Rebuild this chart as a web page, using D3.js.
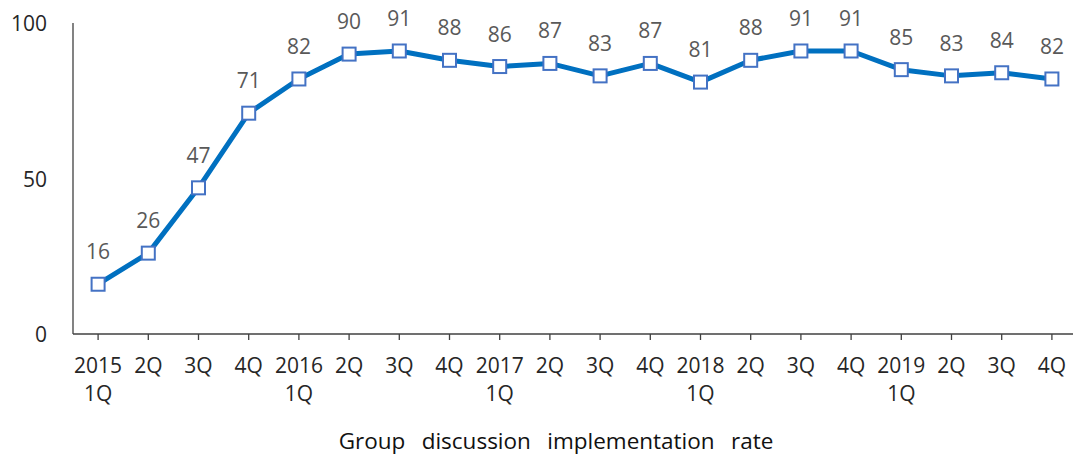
<!DOCTYPE html>
<html>
<head>
<meta charset="utf-8">
<script src="https://cdn.jsdelivr.net/npm/d3@7"></script>
<style>
  html, body { margin: 0; padding: 0; background: #fff; }
  svg { display: block; }
  text { font-family: "Open Sans", "Noto Sans", sans-serif; }
</style>
</head>
<body>
<svg id="chart" width="1073" height="456"></svg>
<script>
// Quarterly categories (first line / second line of each tick label)
const quarters = ["2015 1Q","2Q","3Q","4Q","2016 1Q","2Q","3Q","4Q","2017 1Q","2Q","3Q","4Q","2018 1Q","2Q","3Q","4Q","2019 1Q","2Q","3Q","4Q"];
const rates = [16,26,47,71,82,90,91,88,86,87,83,87,81,88,91,91,85,83,84,82];
const yTicks = [0, 50, 100];
const chartTitle = "Group discussion implementation rate";

const svg = d3.select("#chart");
const plotLeft = 73, plotRight = 1077, plotTop = 23, plotBottom = 334;

const x = d3.scaleBand().domain(d3.range(quarters.length)).range([plotLeft, plotRight]);
const y = d3.scaleLinear().domain([0, 100]).range([plotBottom, plotTop]);
const cx = i => x(i) + x.bandwidth() / 2;

// Y axis: line only, labels on the left
svg.append("line")
  .attr("x1", plotLeft).attr("x2", plotLeft).attr("y1", plotTop).attr("y2", plotBottom)
  .attr("stroke", "#404040").attr("stroke-width", 1.3);
svg.selectAll(".ytick").data(yTicks).enter().append("text")
  .attr("x", 47).attr("y", d => y(d) + 8)
  .attr("text-anchor", "end").attr("font-size", 21).attr("fill", "#262626")
  .text(d => d);

// X axis baseline with ticks at category centres
svg.append("line")
  .attr("x1", plotLeft).attr("x2", 1073).attr("y1", plotBottom).attr("y2", plotBottom)
  .attr("stroke", "#404040").attr("stroke-width", 1.3);
svg.selectAll(".xtick").data(quarters).enter().append("line")
  .attr("x1", (d, i) => cx(i)).attr("x2", (d, i) => cx(i))
  .attr("y1", plotBottom).attr("y2", plotBottom + 6)
  .attr("stroke", "#404040").attr("stroke-width", 1.3);

const xl = svg.selectAll(".xlabel").data(quarters).enter().append("text")
  .attr("text-anchor", "middle").attr("font-size", 21).attr("fill", "#262626");
xl.each(function(d, i) {
  const parts = d.split(" ");
  const t = d3.select(this);
  parts.forEach((p, k) => {
    t.append("tspan").attr("x", cx(i)).attr("y", 373 + k * 28).text(p);
  });
});

// Series line
const line = d3.line().x((d, i) => cx(i)).y(d => y(d));
svg.append("path").datum(rates)
  .attr("d", line).attr("fill", "none")
  .attr("stroke", "#0070C0").attr("stroke-width", 5)
  .attr("stroke-linejoin", "round");

// Square markers
const s = 13;
svg.selectAll(".marker").data(rates).enter().append("rect")
  .attr("x", (d, i) => cx(i) - s / 2).attr("y", d => y(d) - s / 2)
  .attr("width", s).attr("height", s)
  .attr("fill", "#fff").attr("stroke", "#4472C4").attr("stroke-width", 2);

// Value labels
svg.selectAll(".vlabel").data(rates).enter().append("text")
  .attr("x", (d, i) => cx(i)).attr("y", d => y(d) - 25)
  .attr("text-anchor", "middle").attr("font-size", 21).attr("fill", "#595959")
  .text(d => d);

// Caption under the axis
svg.append("text")
  .attr("x", 556).attr("y", 449)
  .attr("text-anchor", "middle").attr("font-size", 22.5).attr("fill", "#111")
  .attr("word-spacing", 10.5)
  .text(chartTitle);
</script>
</body>
</html>
